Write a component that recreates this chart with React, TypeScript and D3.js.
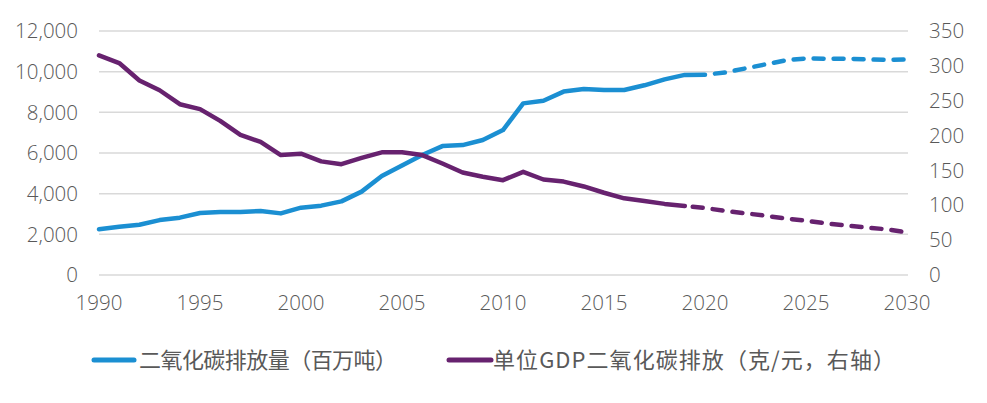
import React from "react";
import * as d3 from "d3";

const actualYears = d3.range(1990, 2021);
const co2Actual = [2250, 2370, 2470, 2700, 2820, 3050, 3100, 3100, 3150, 3030, 3310, 3410, 3620, 4100, 4870, 5390, 5900, 6340, 6390, 6640, 7130, 8440, 8570, 9020, 9150, 9100, 9100, 9330, 9620, 9840, 9850];
const projYears = d3.range(2020, 2031);
const co2Proj = [9850, 9960, 10160, 10360, 10560, 10650, 10640, 10640, 10600, 10580, 10600];

const intensityYears = d3.range(1990, 2020);
const intensityActual = [315, 304, 279, 265, 245, 238, 221, 201, 191, 172, 174, 163, 159, 168, 176, 176, 172, 160, 147, 141, 136, 148, 137, 134, 127, 118, 110, 106, 102, 99];
const intensityProjYears = d3.range(2019, 2031);
const intensityProj = [99, 96, 92, 88.5, 85, 81, 78, 74, 71, 68, 65.5, 61];

const xTicks = [1990, 1995, 2000, 2005, 2010, 2015, 2020, 2025, 2030];
const leftTicks = [0, 2000, 4000, 6000, 8000, 10000, 12000];
const rightTicks = [0, 50, 100, 150, 200, 250, 300, 350];
const legendLabels = ["二氧化碳排放量（百万吨）", "单位GDP二氧化碳排放（克/元，右轴）"];

const BLUE = "#1b8fd2";
const PURPLE = "#67226f";
const TEXT = "#595959";
const GRID = "#d9d9d9";

export default function App() {
  const W = 987, H = 403;
  const x = d3.scaleLinear().domain([1990, 2030]).range([99, 907]);
  const yL = d3.scaleLinear().domain([0, 12000]).range([275, 31]);
  const yR = d3.scaleLinear().domain([0, 350]).range([275, 31]);

  const lineL = d3.line<[number, number]>().x(d => x(d[0])).y(d => yL(d[1]));
  const lineR = d3.line<[number, number]>().x(d => x(d[0])).y(d => yR(d[1]));

  const co2A = lineL(actualYears.map((y, i) => [y, co2Actual[i]]))!;
  const co2P = lineL(projYears.map((y, i) => [y, co2Proj[i]]))!;
  const intA = lineR(intensityYears.map((y, i) => [y, intensityActual[i]]))!;
  const intP = lineR(intensityProjYears.map((y, i) => [y, intensityProj[i]]))!;

  const fontNum = "'Open Sans', 'Liberation Sans', sans-serif";
  const fontCJK = "'Noto Sans CJK SC', 'Noto Sans', sans-serif";

  return (
    <svg width={W} height={H} style={{ position: "absolute", left: 0, top: 0, display: "block", background: "#fff" }}>
      {leftTicks.map(t => (
        <line key={"g" + t} x1={99} x2={908} y1={yL(t)} y2={yL(t)} stroke={GRID} strokeWidth={1.5} />
      ))}
      {leftTicks.map(t => (
        <text key={"l" + t} x={78} y={yL(t)} dy="0.35em" textAnchor="end" fontSize={20.5} fontWeight={300} fill={TEXT} fontFamily={fontNum}>
          {d3.format(",")(t)}
        </text>
      ))}
      {rightTicks.map(t => (
        <text key={"r" + t} x={929} y={yR(t)} dy="0.35em" textAnchor="start" fontSize={20.5} fontWeight={300} fill={TEXT} fontFamily={fontNum}>
          {t}
        </text>
      ))}
      {xTicks.map(t => (
        <text key={"x" + t} x={x(t)} y={310} textAnchor="middle" fontSize={20.5} fontWeight={300} fill={TEXT} fontFamily={fontNum}>
          {t}
        </text>
      ))}
      <path d={co2A} fill="none" stroke={BLUE} strokeWidth={4.5} strokeLinejoin="round" strokeLinecap="round" />
      <path d={co2P} fill="none" stroke={BLUE} strokeWidth={4.5} strokeLinejoin="round" strokeLinecap="round" strokeDasharray="10 10" strokeDashoffset={-10} />
      <path d={intA} fill="none" stroke={PURPLE} strokeWidth={4.5} strokeLinejoin="round" strokeLinecap="round" />
      <path d={intP} fill="none" stroke={PURPLE} strokeWidth={4.5} strokeLinejoin="round" strokeLinecap="round" strokeDasharray="10 10" strokeDashoffset={-8} />

      <line x1={94} x2={134} y1={360} y2={360} stroke={BLUE} strokeWidth={5} strokeLinecap="round" />
      <text x={139} y={360} dy="0.35em" fontSize={22} fill={TEXT} fontFamily={fontCJK} textLength={258} lengthAdjust="spacing">{legendLabels[0]}</text>
      <line x1={449} x2={491} y1={360} y2={360} stroke={PURPLE} strokeWidth={5} strokeLinecap="round" />
      <text x={493} y={360} dy="0.35em" fontSize={22} fill={TEXT} fontFamily={fontCJK} textLength={402} lengthAdjust="spacing">{legendLabels[1]}</text>
    </svg>
  );
}
